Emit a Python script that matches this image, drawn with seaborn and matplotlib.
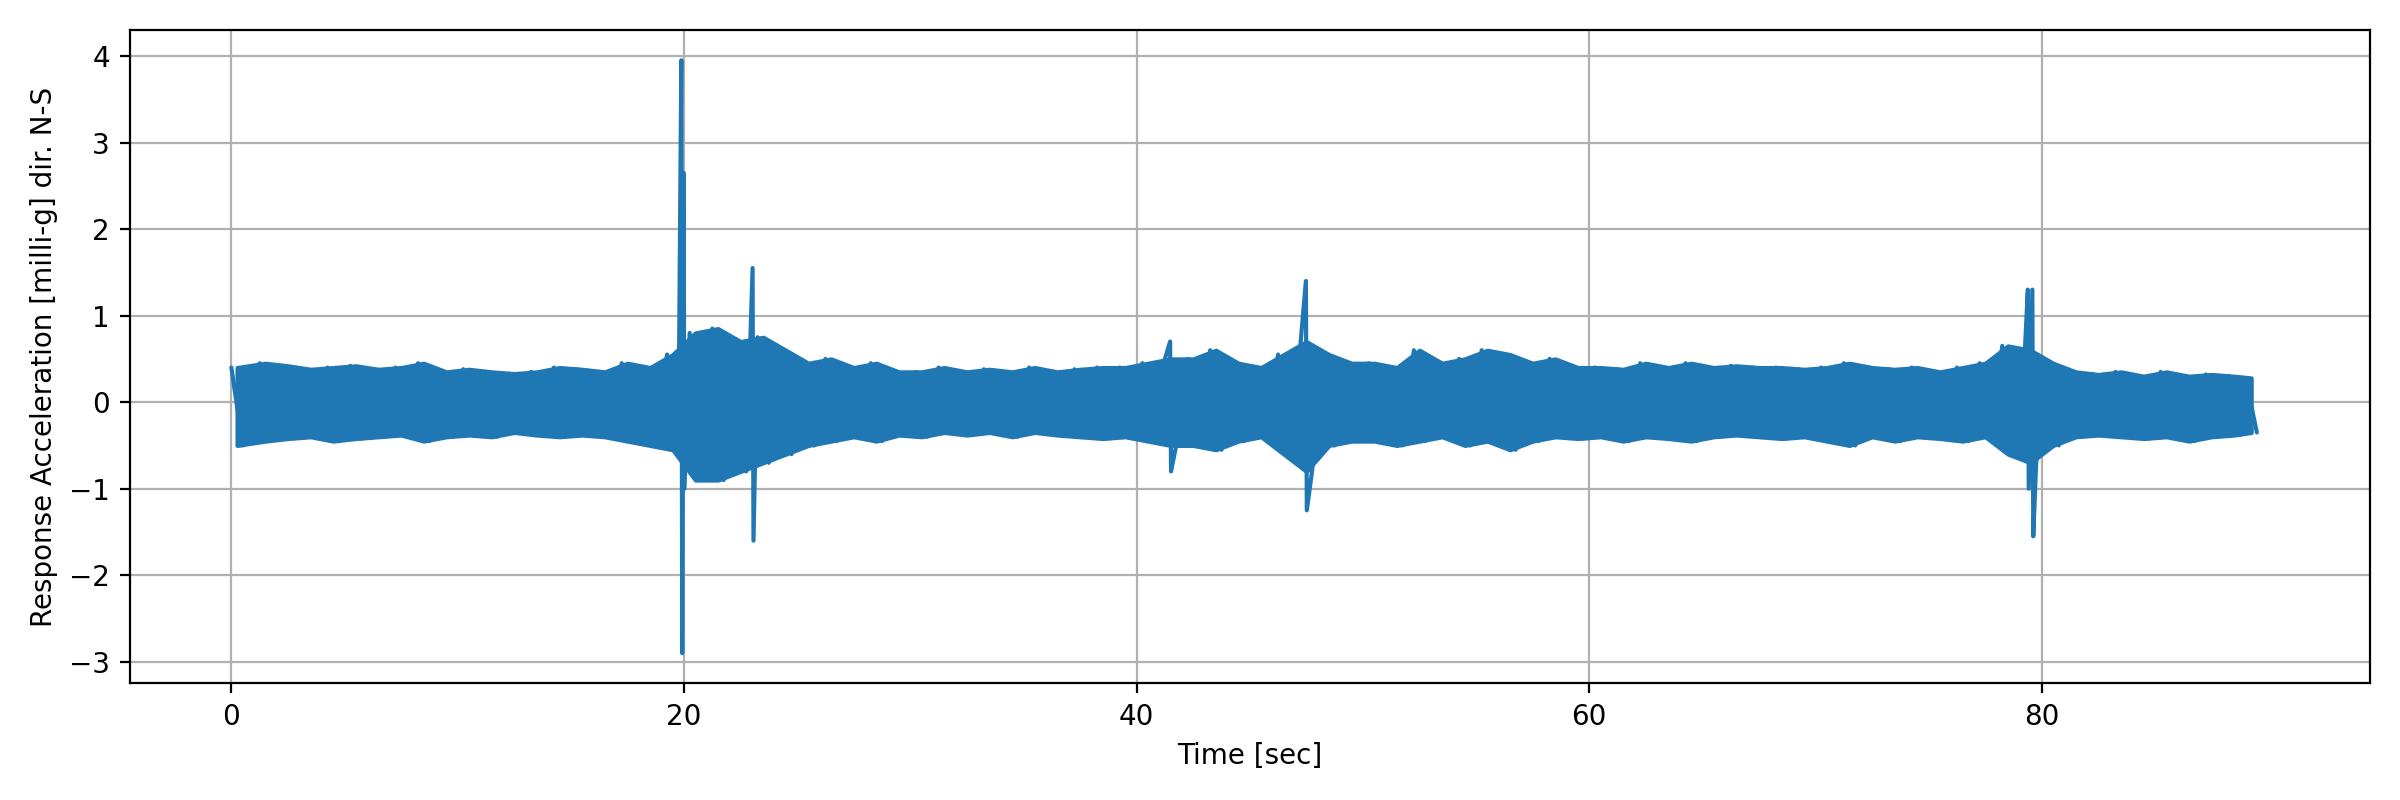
import numpy as np
import pandas as pd
import seaborn as sns
import matplotlib
matplotlib.use("Agg")
import matplotlib.pyplot as plt

# per-second envelope of the background vibration (upper, lower)
upper = [0.40,0.45,0.42,0.38,0.40,0.42,0.38,0.40,0.45,0.35,
         0.38,0.35,0.33,0.35,0.40,0.38,0.35,0.45,0.40,0.55,
         0.80,0.85,0.70,0.75,0.60,0.45,0.50,0.40,0.45,0.35,
         0.35,0.40,0.35,0.38,0.35,0.40,0.35,0.38,0.40,0.40,
         0.45,0.50,0.50,0.60,0.45,0.40,0.55,0.70,0.55,0.45,
         0.45,0.40,0.60,0.45,0.50,0.60,0.55,0.45,0.50,0.40,
         0.40,0.38,0.45,0.40,0.45,0.40,0.42,0.40,0.40,0.38,
         0.40,0.45,0.40,0.38,0.40,0.35,0.40,0.45,0.65,0.60,
         0.45,0.35,0.32,0.35,0.30,0.35,0.30,0.32,0.30,0.28]
lower = [-0.50,-0.45,-0.42,-0.40,-0.45,-0.42,-0.40,-0.38,-0.45,-0.40,
         -0.38,-0.40,-0.35,-0.38,-0.40,-0.38,-0.40,-0.45,-0.50,-0.55,
         -0.90,-0.90,-0.80,-0.70,-0.60,-0.50,-0.45,-0.40,-0.45,-0.38,
         -0.40,-0.35,-0.38,-0.35,-0.40,-0.35,-0.38,-0.40,-0.42,-0.40,
         -0.45,-0.50,-0.50,-0.55,-0.45,-0.40,-0.60,-0.80,-0.50,-0.45,
         -0.45,-0.50,-0.45,-0.40,-0.50,-0.45,-0.55,-0.45,-0.40,-0.42,
         -0.40,-0.45,-0.40,-0.42,-0.45,-0.40,-0.38,-0.40,-0.42,-0.40,
         -0.45,-0.50,-0.40,-0.45,-0.40,-0.42,-0.45,-0.40,-0.60,-0.70,
         -0.50,-0.40,-0.38,-0.40,-0.42,-0.40,-0.45,-0.40,-0.38,-0.35]
# transient spikes
spike_t  = [19.9, 20.0, 23.05, 41.5, 47.5, 79.4, 79.6]
spike_hi = [3.95, 2.65, 1.55, 0.70, 1.40, 1.30, 1.30]
spike_lo = [-2.90, -1.00, -1.60, -0.80, -1.25, -1.00, -1.55]

env_t = [i + 0.5 for i in range(len(upper))]
env_t[0] = 0.25
env_t[-1] = 89.25

t, v = [], []
for ti, u, l in zip(env_t, upper, lower):
    t += [ti - 0.25, ti + 0.25]
    v += [u, l]
for ti, u, l in zip(spike_t, spike_hi, spike_lo):
    t += [ti - 0.02, ti + 0.02]
    v += [u, l]
df = pd.DataFrame({"time": t, "acc": v}).sort_values("time", kind="stable")

sns.set_style("ticks", {"axes.edgecolor": "black", "xtick.color": "black",
                        "ytick.color": "black", "text.color": "black",
                        "axes.labelcolor": "black"})
col = "#1f77b4"
fig, ax = plt.subplots(figsize=(12, 4), dpi=200)
ax.fill_between(env_t, lower, upper, color=col, linewidth=1.5, edgecolor=col)
sns.lineplot(data=df, x="time", y="acc", ax=ax, color=col, linewidth=1.5,
             sort=False, estimator=None)
ax.grid(True, color="#b0b0b0", linewidth=0.8)
ax.set_axisbelow(True)
ax.set_xlim(-4.5, 94.5)
ax.set_ylim(-3.25, 4.3)
ax.set_xticks([0, 20, 40, 60, 80])
ax.set_xlabel("Time [sec]")
ax.set_ylabel("Response Acceleration [milli-g] dir. N-S")
fig.tight_layout()
fig.savefig("out.png")
